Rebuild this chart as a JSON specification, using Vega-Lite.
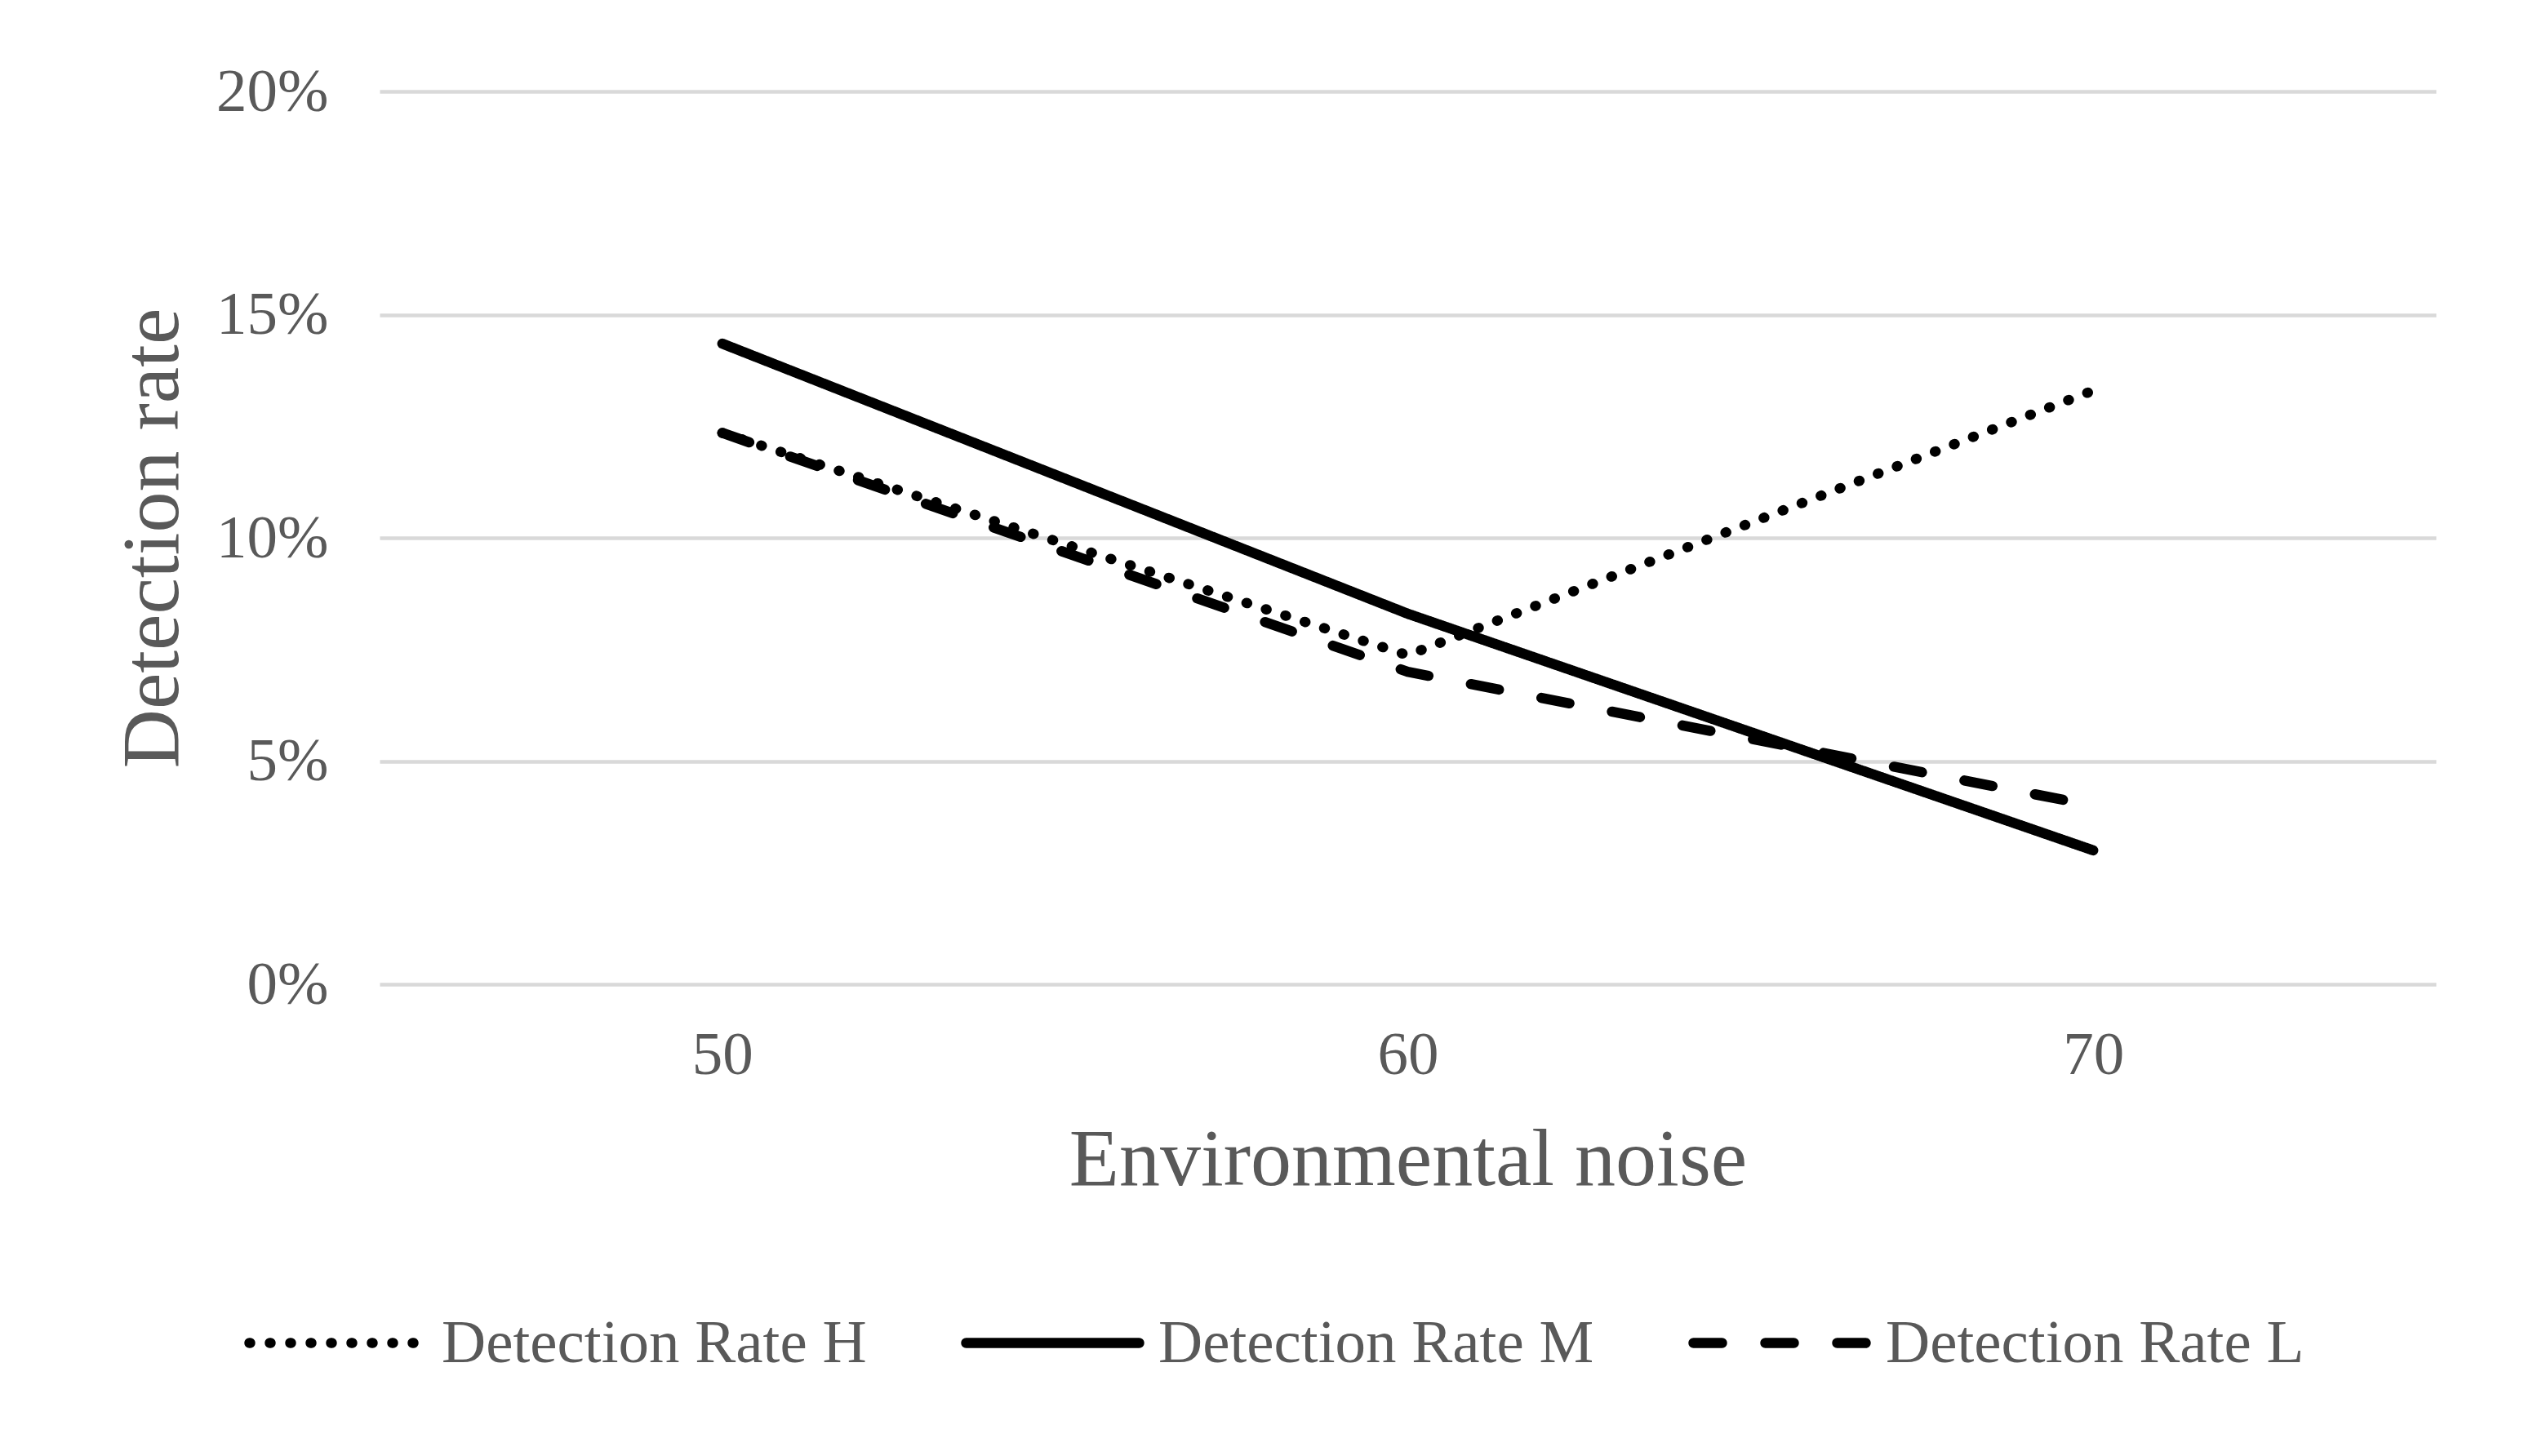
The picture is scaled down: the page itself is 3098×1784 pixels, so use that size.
{
  "$schema": "https://vega.github.io/schema/vega-lite/v6.json",
  "width": 2519,
  "height": 1094,
  "autosize": {"type": "none"},
  "padding": {"left": 465, "top": 112, "right": 114, "bottom": 578},
  "background": "white",
  "config": {"view": {"stroke": null}, "font": "Liberation Serif"},
  "data": {
    "values": [
      {"noise": 50, "series": "Detection Rate H", "rate": 0.1235},
      {"noise": 60, "series": "Detection Rate H", "rate": 0.0737},
      {"noise": 70, "series": "Detection Rate H", "rate": 0.133},
      {"noise": 50, "series": "Detection Rate M", "rate": 0.1435},
      {"noise": 60, "series": "Detection Rate M", "rate": 0.083},
      {"noise": 70, "series": "Detection Rate M", "rate": 0.030},
      {"noise": 50, "series": "Detection Rate L", "rate": 0.1235},
      {"noise": 60, "series": "Detection Rate L", "rate": 0.070},
      {"noise": 70, "series": "Detection Rate L", "rate": 0.040}
    ]
  },
  "mark": {"type": "line", "color": "black", "strokeWidth": 12.5, "strokeCap": "round", "strokeJoin": "round"},
  "encoding": {
    "x": {
      "field": "noise",
      "type": "ordinal",
      "scale": {"padding": 0.5},
      "axis": {
        "title": "Environmental noise",
        "titleFont": "Liberation Serif",
        "titleFontSize": 100,
        "titleFontWeight": "normal",
        "titleColor": "#595959",
        "titlePadding": 42,
        "labelFont": "Liberation Serif",
        "labelFontSize": 75,
        "labelColor": "#595959",
        "labelAngle": 0,
        "labelPadding": 50,
        "domain": false,
        "ticks": false,
        "grid": false
      }
    },
    "y": {
      "field": "rate",
      "type": "quantitative",
      "scale": {"domain": [0, 0.2]},
      "axis": {
        "title": "Detection rate",
        "titleFont": "Liberation Serif",
        "titleFontSize": 100,
        "titleFontWeight": "normal",
        "titleColor": "#595959",
        "titlePadding": 27,
        "labelFont": "Liberation Serif",
        "labelFontSize": 75,
        "labelColor": "#595959",
        "labelPadding": 63,
        "values": [0, 0.05, 0.1, 0.15, 0.2],
        "format": ".0%",
        "domain": false,
        "ticks": false,
        "grid": true,
        "gridColor": "#d9d9d9",
        "gridWidth": 4.5
      }
    },
    "strokeDash": {
      "field": "series",
      "type": "nominal",
      "scale": {
        "domain": ["Detection Rate H", "Detection Rate M", "Detection Rate L"],
        "range": [[1, 24], [1, 0], [35, 53]]
      },
      "legend": {
        "title": null,
        "orient": "none",
        "direction": "horizontal",
        "legendX": -166,
        "legendY": 1421,
        "padding": 0,
        "gridAlign": "none",
        "labelFont": "Liberation Serif",
        "labelFontSize": 75,
        "labelColor": "#595959",
        "labelOffset": 17,
        "labelLimit": 0,
        "columnPadding": 96,
        "symbolType": "stroke",
        "symbolSize": 44944,
        "symbolStrokeWidth": 12.5,
        "symbolStrokeColor": "black",
        "encode": {"symbols": {"update": {"strokeCap": {"value": "round"}}}}
      }
    }
  }
}
